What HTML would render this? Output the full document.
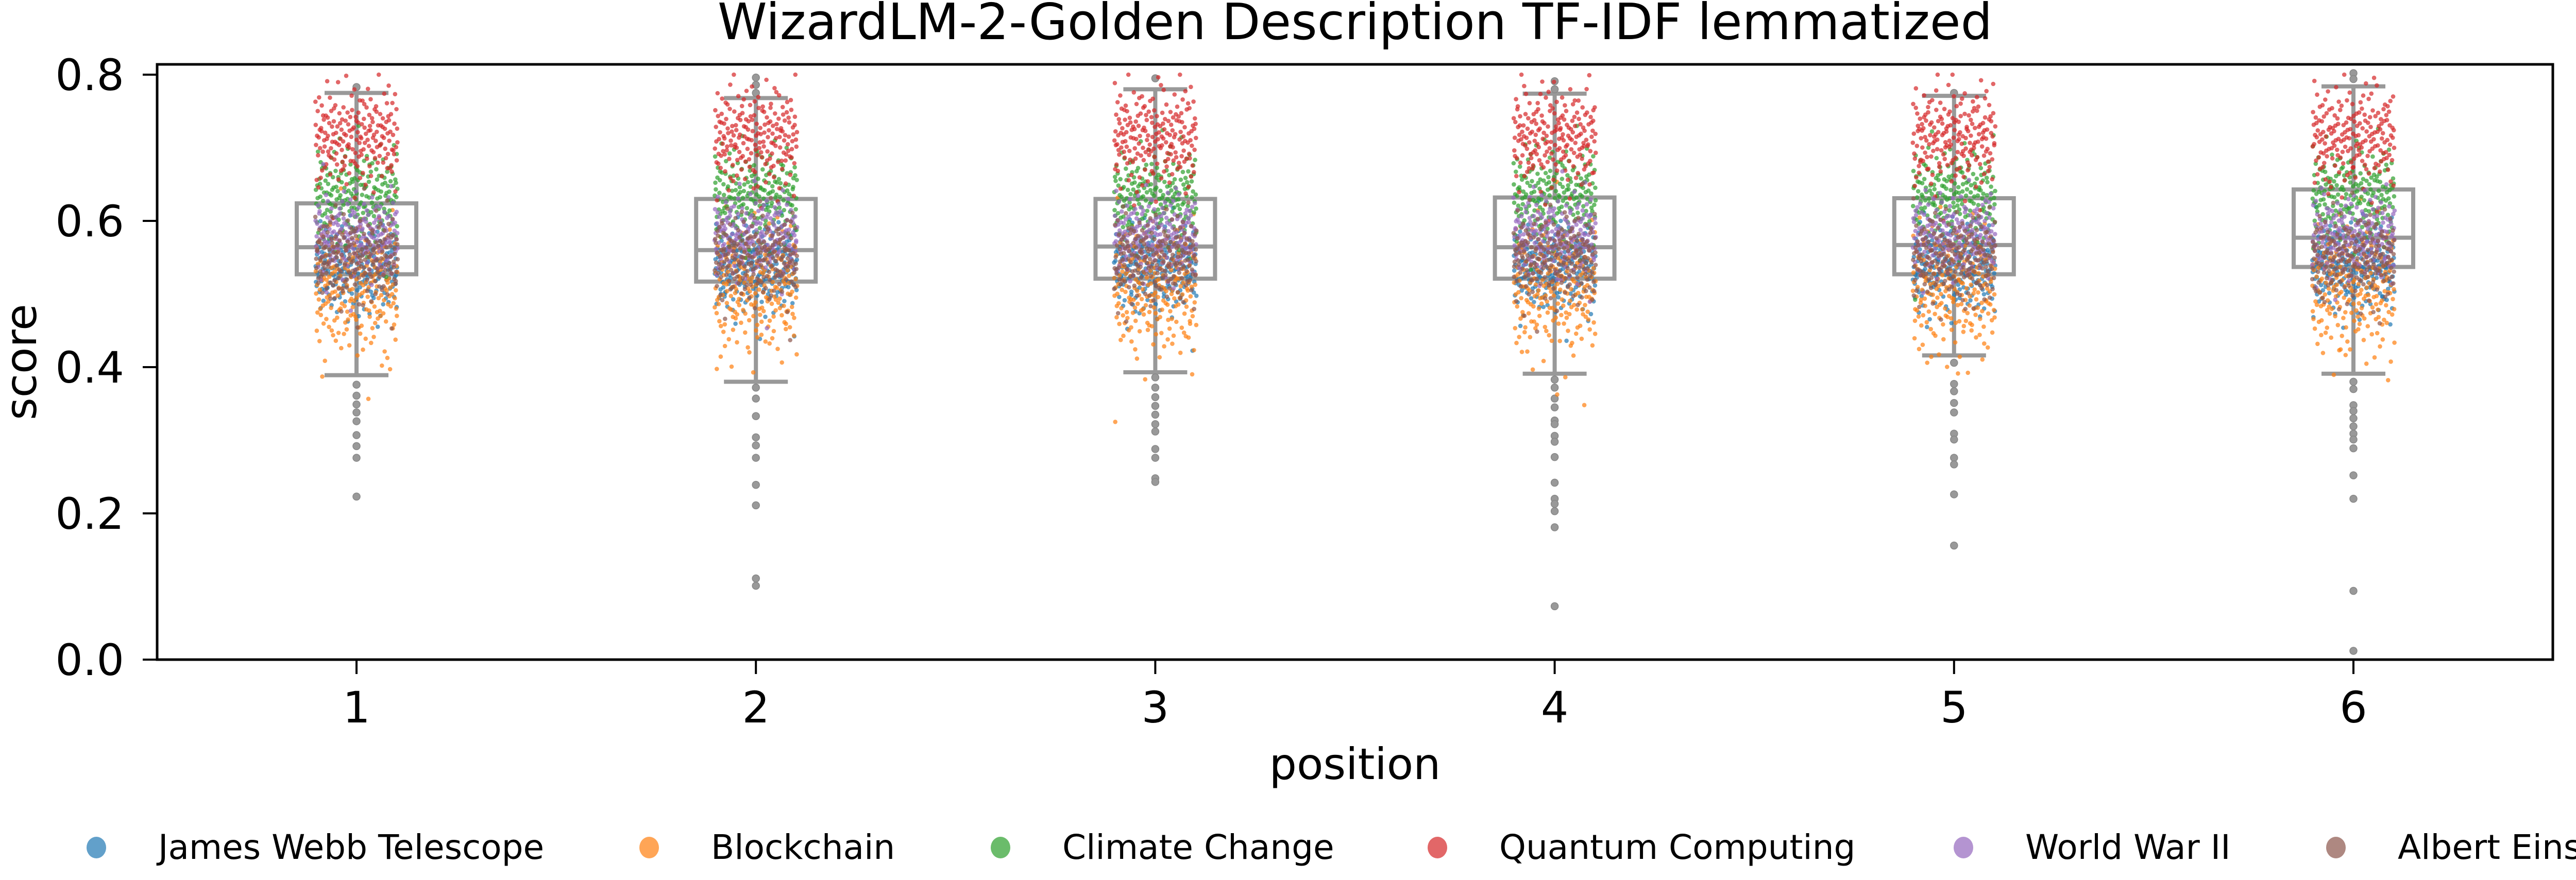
<!DOCTYPE html>
<html><head><meta charset="utf-8"><style>
html,body{margin:0;padding:0;background:#fff;overflow:hidden;}
svg{display:block;font-family:"DejaVu Sans","Liberation Sans",sans-serif;}
</style></head><body>
<svg id="chart" width="5167" height="1709" viewBox="0 0 5167 1709" xmlns="http://www.w3.org/2000/svg">
<rect x="0" y="0" width="5167" height="1709" fill="#fff"/>
<text x="2630" y="76" font-size="97" text-anchor="middle" fill="#000">WizardLM-2-Golden Description TF-IDF lemmatized</text>
<g id="boxes"></g>
<g id="points"></g>
<g id="axes"></g>
<text x="70" y="703" font-size="84" text-anchor="middle" transform="rotate(-90 70 703)">score</text>
<text x="2630" y="1513" font-size="84" text-anchor="middle">position</text>
<g id="legend"></g>
</svg>
<script>
// ---- data ----
const positions = ["1","2","3","4","5","6"];
const yTicks = [0.0, 0.2, 0.4, 0.6, 0.8];
const whiskerLow = [0.389, 0.380, 0.393, 0.391, 0.416, 0.391];
const q1 = [0.527, 0.517, 0.521, 0.521, 0.527, 0.537];
const medians = [0.564, 0.560, 0.565, 0.564, 0.567, 0.577];
const q3 = [0.624, 0.630, 0.630, 0.632, 0.631, 0.643];
const whiskerHigh = [0.775, 0.768, 0.780, 0.774, 0.771, 0.784];
const outliers = [
  [0.783, 0.376, 0.361, 0.349, 0.338, 0.326, 0.307, 0.292, 0.276, 0.223],
  [0.796, 0.786, 0.775, 0.372, 0.357, 0.333, 0.304, 0.293, 0.276, 0.239, 0.211, 0.111, 0.101],
  [0.795, 0.386, 0.372, 0.359, 0.347, 0.335, 0.322, 0.312, 0.288, 0.276, 0.248, 0.243],
  [0.791, 0.780, 0.383, 0.372, 0.357, 0.345, 0.327, 0.322, 0.306, 0.298, 0.277, 0.242, 0.220, 0.213, 0.203, 0.181, 0.073],
  [0.775, 0.406, 0.377, 0.367, 0.351, 0.338, 0.309, 0.301, 0.276, 0.267, 0.226, 0.156],
  [0.802, 0.794, 0.380, 0.370, 0.348, 0.340, 0.330, 0.319, 0.309, 0.301, 0.289, 0.252, 0.220, 0.094, 0.012]
];
const topics = ["James Webb Telescope","Blockchain","Climate Change","Quantum Computing","World War II","Albert Einstein"];
const topicColors = ["#1f77b4","#ff7f0e","#2ca02c","#d62728","#9467bd","#8c564b"];
const topicMeans = [0.535, 0.505, 0.635, 0.715, 0.580, 0.550];
const topicSpreads = [0.030, 0.045, 0.032, 0.035, 0.028, 0.030];
const topicMin = [0.30, 0.30, 0.28, 0.60, 0.28, 0.26];
const topicMax = [0.66, 0.66, 0.73, 0.80, 0.70, 0.68];
const pointsPerTopic = 190;

// ---- scales ----
const X0 = 692, XSTEP = 775.2;
const Y0 = 1281, YPX = 1420;
const xPos = i => X0 + i * XSTEP;
const yPos = v => Y0 - v * YPX;
const NS = "http://www.w3.org/2000/svg";
function mk(tag, attrs, parent){ const e=document.createElementNS(NS,tag); for(const k in attrs) e.setAttribute(k, attrs[k]); parent.appendChild(e); return e; }

// ---- axes ----
const axes = document.getElementById('axes');
const frame = mk('rect',{x:305,y:125,width:4650,height:1156,fill:'none',stroke:'#000','stroke-width':5},axes);


yTicks.forEach(t=>{
  const y=yPos(t);
  const tl=mk('line',{x1:277,x2:305,y1:y,y2:y,stroke:'#000','stroke-width':4},axes);
  
  
  const tx=mk('text',{x:241,y:y+30,'font-size':84,'text-anchor':'end'},axes);
  tx.textContent=t.toFixed(1);
  
  
});
positions.forEach((p,i)=>{
  const x=xPos(i);
  const tl=mk('line',{x1:x,x2:x,y1:1281,y2:1309,stroke:'#000','stroke-width':4},axes);
  
  
  const tx=mk('text',{x:x,y:1403,'font-size':84,'text-anchor':'middle'},axes);
  tx.textContent=p;
  
  
});

// ---- boxes ----
const boxes=document.getElementById('boxes');
const G='#999999', BW=116, CW=62, LW=8;
positions.forEach((p,i)=>{
  const x=xPos(i);
  const g=mk('g',{},boxes);
  
  
  mk('line',{x1:x,x2:x,y1:yPos(whiskerLow[i]),y2:yPos(q1[i]),stroke:G,'stroke-width':LW},g);
  mk('line',{x1:x,x2:x,y1:yPos(q3[i]),y2:yPos(whiskerHigh[i]),stroke:G,'stroke-width':LW},g);
  mk('line',{x1:x-CW,x2:x+CW,y1:yPos(whiskerLow[i]),y2:yPos(whiskerLow[i]),stroke:G,'stroke-width':LW},g);
  mk('line',{x1:x-CW,x2:x+CW,y1:yPos(whiskerHigh[i]),y2:yPos(whiskerHigh[i]),stroke:G,'stroke-width':LW},g);
  mk('rect',{x:x-BW,y:yPos(q3[i]),width:2*BW,height:yPos(q1[i])-yPos(q3[i]),fill:'none',stroke:G,'stroke-width':LW},g);
  mk('line',{x1:x-BW,x2:x+BW,y1:yPos(medians[i]),y2:yPos(medians[i]),stroke:G,'stroke-width':LW},g);
  outliers[i].forEach(v=>{ mk('circle',{cx:x,cy:yPos(v),r:7,fill:G,stroke:'#888','stroke-width':1.5},g); });
});

// ---- strip points (deterministic low-discrepancy spread around read topic centers) ----
function halton(n,b){ let f=1,r=0; while(n>0){ f/=b; r+=f*(n%b); n=Math.floor(n/b);} return r; }
function invNorm(u){ u=Math.min(Math.max(u,1e-4),1-1e-4); const a=[-39.696830,220.946098,-275.928510,138.357751,-30.664798,2.506628],b=[-54.476098,161.585836,-155.698979,66.801311,-13.280681],c=[-0.007784894,-0.32239645,-2.400758,-2.549732,4.374664,2.938163],d=[0.007784695,0.32246712,2.445134,3.754408];
  const pl=0.02425; let q,r;
  if(u<pl){q=Math.sqrt(-2*Math.log(u));return (((((c[0]*q+c[1])*q+c[2])*q+c[3])*q+c[4])*q+c[5])/((((d[0]*q+d[1])*q+d[2])*q+d[3])*q+1);}
  if(u>1-pl){q=Math.sqrt(-2*Math.log(1-u));return -(((((c[0]*q+c[1])*q+c[2])*q+c[3])*q+c[4])*q+c[5])/((((d[0]*q+d[1])*q+d[2])*q+d[3])*q+1);}
  q=u-0.5;r=q*q;return (((((a[0]*r+a[1])*r+a[2])*r+a[3])*r+a[4])*r+a[5])*q/(((((b[0]*r+b[1])*r+b[2])*r+b[3])*r+b[4])*r+1);}
const ptsG=document.getElementById('points');
positions.forEach((p,i)=>{
  const g=mk('g',{},ptsG);
  
  
  topics.forEach((t,k)=>{
    for(let n=1;n<=pointsPerTopic;n++){
      const idx=n+k*997+i*331;
      let z=invNorm(halton(idx,2));
      if(n%23===0 && z<0) z*=1.8;
      let v=topicMeans[k]+topicSpreads[k]*z;
      v=Math.max(topicMin[k],Math.min(topicMax[k],v));
      const dx=(halton(idx,3)*2-1)*80;
      mk('circle',{cx:(xPos(i)+dx).toFixed(1),cy:yPos(v).toFixed(1),r:4.3,fill:topicColors[k],'fill-opacity':0.7},g);
    }
  });
});

// ---- legend ----
const leg=document.getElementById('legend');
const legMarkerX=[187,1260,1942,2790,3811,4534];
topics.forEach((t,k)=>{
  const g=mk('g',{},leg);
  
  
  mk('ellipse',{cx:legMarkerX[k],cy:1646,rx:19,ry:21,fill:topicColors[k],'fill-opacity':0.7},g);
  const tx=mk('text',{x:legMarkerX[k]+120,y:1668,'font-size':66},g);
  tx.textContent=t;
});
</script>
</body></html>
